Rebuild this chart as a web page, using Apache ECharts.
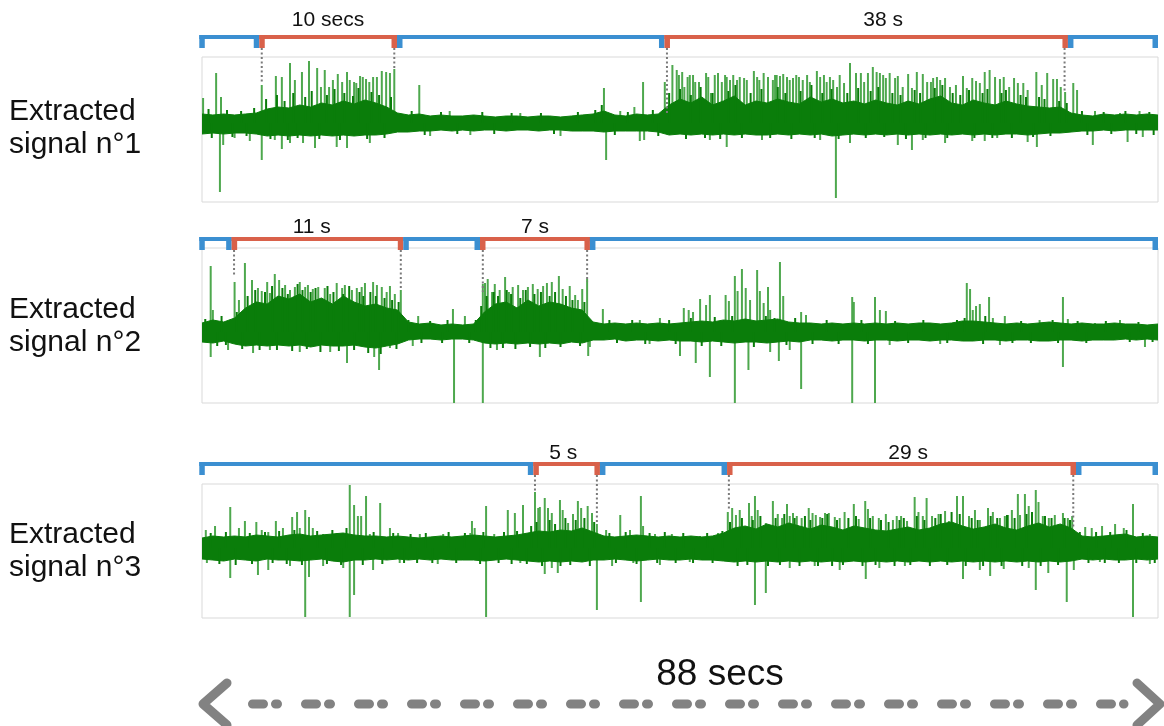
<!DOCTYPE html>
<html><head><meta charset="utf-8">
<script src="https://cdn.jsdelivr.net/npm/echarts@6/dist/echarts.min.js"></script>
<style>html,body{margin:0;padding:0;background:#fff}#c{width:1164px;height:726px}</style>
</head><body><div id="c"></div>
<script>
// ---------------- DATA ----------------
const TIME_MAX = 88;                       // seconds
const totalLabel = '88 secs';
const signalNames = ['Extracted\nsignal n°1', 'Extracted\nsignal n°2', 'Extracted\nsignal n°3'];

// dense-noise envelopes, one value per second (t = 0..88)
const band1Up = [9,8,9,8,9, 10,14,16,15,18,16,20,18,22,19,23,20,16,10,
  8,9,7,8,7,7,8,7,6,7,7,6,7,7,6,7,8,9,12,8,7,9,8,9,
  18,24,20,26,18,22,27,18,22,20,24,21,19,26,21,24,20,22,19,23,20,18,22,19,24,27,20,18,23,20,18,22,19,17,16,15,16,10,
  8,7,9,8,9,8,9,8];
const band1Dn = [-11,-10,-11,-10,-10, -11,-13,-12,-13,-12,-13,-12,-13,-12,-13,-12,-12,-11,-9,
  -9,-8,-8,-7,-8,-7,-8,-7,-7,-8,-7,-7,-8,-7,-7,-8,-8,-8,-9,-8,-8,-8,-8,-9,
  -12,-11,-12,-11,-12,-11,-12,-11,-12,-12,-11,-12,-11,-12,-11,-13,-12,-11,-12,-11,-12,-11,-12,-11,-12,-11,-12,-11,-12,-11,-12,-11,-11,-12,-11,-10,-10,-9,
  -8,-8,-7,-8,-7,-7,-7,-7];
const band2Up = [9,12,10,14, 24,30,28,36,33,38,30,34,28,36,30,26,28,24,22,
  10,8,9,7,8,7,8, 20,28,30,24,32,26,30,28,24,22,
  10,8,9,8,9,8,9,8,9,10, 11,10,12,11,13,11,12,13,10,9,
  9,8,9,8,9,8,9,8,9,8,9,9,8,9,11,11,10,9,8,9,8,9,10,9,8,9,8,8,9,8,8,7,8];
const band2Dn = [-10,-11,-9,-12, -14,-13,-14,-13,-14,-13,-15,-13,-14,-14,-13,-15,-16,-14,-12,
  -8,-7,-7,-8,-7,-7,-8, -11,-12,-11,-12,-11,-12,-11,-12,-10,-11,
  -8,-8,-7,-9,-8,-8,-9,-8,-9,-9, -10,-9,-10,-11,-10,-10,-11,-10,-9,-10,
  -8,-8,-9,-8,-8,-9,-8,-8,-9,-8,-8,-9,-8,-8,-9,-9,-8,-8,-9,-8,-8,-9,-9,-8,-8,-9,-8,-8,-8,-7,-8,-7,-8];
const band3Up = [10,12,11,12,11,13,12,11,13,14, 12,13,14,15,13,12,12,11,12,11,
  10,11,12,11,12,13,12,11,12,13, 15,17,16,18,17,20,16,12,11,12,
  13,12,11,12,11,12,11,12,15,20, 22,19,24,21,25,22,19,23,21,18,
  22,20,18,17,19,21,18,20,24,26, 22,19,21,24,20,18,22,25,21,24,
  20,12,11,12,13,14,11,12,11];
const band3Dn = [-11,-12,-13,-11,-12,-13,-11,-12,-12,-13, -12,-11,-13,-14,-12,-12,-11,-12,-11,-12,
  -11,-12,-11,-12,-12,-12,-13,-12,-11,-12, -13,-14,-13,-14,-13,-14,-12,-12,-11,-12,
  -13,-12,-11,-12,-12,-11,-12,-12,-13,-14, -13,-14,-13,-14,-13,-14,-13,-14,-13,-14,
  -13,-14,-13,-14,-13,-14,-13,-14,-13,-14, -13,-14,-13,-14,-13,-14,-13,-14,-13,-14,
  -13,-11,-12,-11,-12,-12,-11,-12,-11];

// short dark bursts inside the noise band [time s, amplitude]
const bursts1 = [[0.6,14],[0.9,-15],[2.3,13],[2.8,-14],[3.6,12],[4.1,-13],[4.8,15],
[5.9,24],[6.3,-16],[6.9,28],[7.6,22],[7.9,-17],[8.4,30],[8.8,-15],[9.5,26],[10.1,32],[10.8,-16],[11.5,28],[12.2,34],[12.7,-17],[13.1,30],[13.9,27],[14.4,35],[15.2,-16],[15.6,31],[16.3,28],[16.8,-15],[17.4,26],
[19.3,12],[20.5,-12],[22.0,11],[23.5,-11],[25.8,11],[26.9,-11],[28.5,10],[31.2,10],[32.4,-11],[34.6,11],[36.2,13],[36.8,18],[38.0,-12],[39.2,11],[41.5,13],[42.0,-13],
[43.0,30],[44.0,34],[44.55,-16],[45.0,28],[45.9,36],[46.3,-15],[47.0,30],[47.7,-16],[48.45,32],[49.1,38],[49.7,-15],[50.5,30],[51.5,34],[52.3,-15],[53.0,36],[53.7,30],[54.25,-16],[55.1,32],[56.1,38],[56.4,-15],[57.1,30],[57.95,34],[58.6,-16],[59.4,30],[60.4,35],[61.1,-15],[61.55,32],[62.25,36],[62.8,-14],[63.55,30],[64.3,28],[64.8,-16],[65.6,33],[66.1,30],[66.6,-15],[67.45,35],[68.15,38],[68.6,-15],[69.1,30],[69.8,28],[70.6,33],[71.1,-15],[71.85,30],[72.3,34],[72.75,-15],[73.6,30],[74.0,33],[74.55,-15],[75.35,28],[75.85,26],[76.5,-14],[77.05,26],[77.55,24],[78.1,-13],[78.9,22],[79.6,20],
[81.0,12],[81.5,-12],[83.0,11],[83.7,-11],[85.0,12],[86.0,-11],[87.2,11],[87.6,-12]];
const bursts2 = [[0.3,13],[1.4,-14],[1.8,16],[2.2,-13],[3.2,20],[3.7,-17],[4.2,36],[4.9,42],[5.3,-18],[5.8,40],[6.45,46],[6.9,-18],[7.4,44],[7.9,38],[8.3,-19],[8.8,48],[9.25,42],[9.65,-17],[10.0,40],[10.45,44],[10.9,-20],[11.55,46],[12.1,40],[12.6,-19],[13.0,38],[13.55,46],[14.0,-18],[14.5,40],[14.85,36],[15.3,-21],[15.5,40],[16.0,36],[16.45,-22],[16.8,34],[17.5,32],[17.9,-17],[18.1,30],
[19.0,12],[20.2,-11],[21.0,11],[22.1,-11],[22.6,12],[24.6,-11],[25.2,12],
[25.7,26],[26.2,36],[26.55,-16],[26.85,40],[27.25,36],[27.7,-16],[28.05,42],[28.45,38],[28.85,-17],[29.3,34],[29.8,42],[30.2,-15],[30.6,38],[31.2,40],[31.6,-16],[32.0,36],[32.5,40],[33.0,-15],[33.5,36],[34.1,32],[34.8,-14],[35.2,30],
[37.5,12],[38.2,-11],[39.6,12],[40.8,-12],[43.0,12],[43.6,-12],[45.0,14],[46.0,-14],[47.2,15],[47.8,-14],[48.8,16],[50.8,-15],[51.9,16],[52.7,14],[53.8,-13],[54.6,14],[56.2,-12],[57.5,12],[58.6,-12],[60.7,12],[61.3,-12],[63.8,11],[65.0,-11],[66.4,12],[68.6,-11],[69.5,12],[70.2,14],[71.9,-12],[72.1,16],[74.6,-11],[75.4,11],[76.3,-11],[78.3,12],[78.8,-11],[80.6,11],[81.4,-11],[83.2,11],[85.4,-10],[86.2,10],[87.5,-10]];
const bursts3 = [[0.8,15],[1.6,-16],[2.2,16],[3.1,-17],[4.4,15],[4.6,-16],[5.8,16],[6.5,-15],[7.1,17],[7.8,-16],[8.5,18],[9.2,-17],[10.6,17],[11.5,-16],[12.0,18],[12.8,-17],[13.3,20],[14.8,-17],[15.8,16],[16.6,-16],[17.6,15],[18.6,-15],[19.2,14],[19.8,-15],[20.6,15],[21.2,-15],[22.7,16],[23.4,-15],[24.2,15],[25.6,-16],[25.9,16],[27.3,-15],[27.8,16],[28.5,-16],[29.0,17],[29.9,-16],
[30.3,22],[30.8,26],[31.3,-18],[32.0,28],[32.5,24],[33.0,-18],[33.45,30],[33.9,-17],[34.4,28],[35.2,30],[35.7,-18],[36.1,26],
[37.5,15],[38.1,-15],[39.0,16],[40.0,-16],[41.2,15],[41.9,-15],[42.6,16],[43.6,-15],[44.3,15],[45.2,-15],[46.5,15],[47.0,-15],[47.9,17],
[48.6,26],[49.3,-18],[49.7,30],[50.2,-17],[50.7,28],[51.4,32],[52.1,-18],[52.8,30],[53.2,-17],[53.6,34],[54.55,30],[55.0,-18],[55.5,32],[56.0,28],[56.7,-18],[57.1,30],[57.55,34],[58.0,-18],[58.45,28],[59.0,-17],[59.5,30],[60.2,32],[60.8,-18],[61.5,30],[62.0,-17],[62.5,28],[63.2,26],[63.75,-18],[64.2,28],[64.6,30],[65.2,-17],[65.8,32],[66.5,28],[67.0,-18],[67.5,30],[68.0,34],[68.6,-17],[69.0,36],[69.75,34],[70.3,-18],[70.85,30],[71.4,28],[71.9,-18],[72.6,32],[73.2,30],[73.6,-18],[74.1,33],[74.8,30],[75.5,-18],[75.9,34],[76.4,36],[77.2,-18],[77.6,32],[78.2,30],[78.8,-17],[79.4,30],[79.9,28],
[80.8,16],[81.6,-15],[82.3,16],[83.1,-15],[83.6,16],[84.4,-15],[85.1,18],[86.0,-15],[86.6,15],[87.7,-15]];

// individual spikes [time s, amplitude]
const spikes1 = [[0.1,25],[1.3,50],[1.65,-69],[1.75,26],[1.95,-22],[3.0,-15],[4.4,-18],[5.5,38],[5.5,-37],[6.7,-17],[6.8,47],[7.35,46],[7.35,-26],[8.1,60],[8.1,-20],[8.55,43],[9.2,51],[9.3,-20],[9.85,62],[10.4,-25],[10.6,55],[10.95,36],[11.3,53],[11.7,36],[12.05,43],[12.4,-24],[12.5,49],[12.9,41],[13.35,51],[13.35,-25],[13.6,43],[14.0,41],[14.2,40],[14.55,47],[14.8,46],[15.1,44],[15.4,41],[15.45,-20],[15.75,46],[16.1,46],[16.55,52],[16.95,51],[17.3,50],[17.7,54],
[20.0,38],[21.0,-13],[22.8,12],[24.7,-12],[29.3,10],[33.0,-13],[37.0,35],[37.2,-37],[38.5,12],[39.8,16],[40.3,-18],[40.6,41],[40.7,-17],
[42.6,41],[43.3,58],[43.7,53],[43.9,48],[44.2,51],[44.4,36],[44.7,46],[44.9,48],[45.2,48],[45.4,41],[45.75,41],[46.4,50],[46.6,46],[46.75,-17],[46.85,30],[47.2,48],[47.5,50],[47.85,41],[48.15,48],[48.3,46],[48.3,-24],[48.6,43],[48.9,48],[49.25,43],[49.5,46],[49.9,45],[50.15,43],[50.8,52],[51.1,46],[51.3,43],[51.55,-17],[51.7,50],[52.1,46],[52.55,43],[52.75,48],[52.9,48],[53.2,47],[53.5,49],[53.85,46],[54.1,43],[54.4,45],[54.7,48],[54.95,46],[55.3,43],[55.7,48],[55.95,41],[56.6,52],[56.9,46],[56.9,-17],[57.25,48],[57.5,41],[57.8,46],[58.1,43],[58.35,-75],[58.45,36],[58.7,48],[59.1,40],[59.65,60],[59.65,-20],[60.2,50],[60.65,50],[60.95,41],[61.3,50],[61.75,56],[62.1,51],[62.4,50],[62.7,48],[62.95,45],[63.3,50],[63.8,45],
[64.05,47],[64.05,-22],[64.5,36],[65.0,49],[65.35,35],[65.35,-27],[65.8,51],[66.35,49],[66.35,-17],[66.75,41],[67.1,41],[67.3,45],[67.65,46],[67.95,43],[68.4,45],[68.4,-20],[68.85,36],[69.4,38],[70.05,47],[70.4,35],[70.9,45],[70.9,-18],[71.25,42],[71.6,40],[72.05,51],[72.05,-18],[72.5,53],[73.0,46],[73.2,-15],[73.45,44],[73.8,46],[74.3,36],[74.75,45],[75.1,40],[75.6,40],[76.0,33],[76.0,-19],[76.8,51],[76.85,-24],[77.3,38],[77.8,50],[78.35,44],[78.7,44],[79.05,36],[79.45,31],[80.2,40],[80.55,33],[82.0,-22],[82.2,12],[84.5,10],[85.2,-19],[86.3,12],[86.6,-14]];
const spikes2 = [[0.8,66],[0.8,-25],[1.0,22],[2.4,-18],[3.0,50],[3.4,32],[3.95,69],[4.6,52],[4.7,-21],[5.15,44],[5.5,41],[6.0,50],[6.25,39],[6.25,-18],[6.7,58],[7.1,52],[7.65,47],[8.1,42],[8.55,45],[9.0,50],[9.0,-20],[9.5,45],[9.75,47],[10.2,43],[10.7,45],[11.3,44],[11.8,38],[11.8,-20],[12.4,49],[12.9,44],[13.15,47],[13.35,-31],[13.8,42],[14.25,44],[14.7,45],[15.0,49],[15.75,50],[15.85,-25],[16.1,47],[16.3,-38],[16.55,45],[17.0,40],[17.3,46],[17.3,-16],[17.75,38],[18.3,42],
[19.4,-14],[19.9,16],[23.1,23],[23.2,-71],[24.2,16],
[25.85,48],[25.85,-71],[26.05,49],[26.3,53],[26.7,40],[26.95,48],[27.15,-18],[27.4,42],[27.9,55],[28.25,40],[28.6,45],[29.1,47],[29.55,42],[30.0,45],[30.45,48],[30.9,43],[31.1,-25],[31.4,46],[31.75,49],[32.2,50],[32.85,56],[33.2,43],[33.85,46],[34.35,37],[34.6,32],[35.0,43],[35.45,53],[35.55,-24],[35.7,-15],
[36.9,23],[40.3,12],[41.2,-12],[42.15,14],[44.0,-24],[44.35,24],[44.8,22],[45.2,20],[45.45,-31],[45.85,33],[46.4,27],[46.75,37],[46.75,-45],[48.2,37],[48.5,31],[49.05,56],[49.05,-71],[49.3,41],[49.7,63],[50.05,44],[50.3,-38],[50.45,32],[51.1,62],[51.35,41],[51.7,29],[52.1,45],[52.3,22],[52.3,-20],[53.1,-29],[53.2,70],[53.5,36],[54.1,-18],[55.15,20],[55.15,-57],[55.6,17],[59.85,35],[59.85,-71],[60.0,30],[61.95,35],[61.95,-71],[62.4,22],[62.95,21],[63.3,-13],[67.95,-12],[70.4,49],[70.7,43],[70.95,22],[71.25,26],[71.6,28],[72.45,35],[72.8,14],[73.45,-13],[73.9,16],[77.1,12],[79.25,35],[79.25,-35],[79.7,13],[82.2,9],[84.5,12],[86.8,-15]];
const spikes3 = [[0.35,18],[0.45,-15],[1.2,22],[2.6,41],[2.6,-30],[3.4,20],[3.95,27],[5.0,26],[5.15,-27],[5.5,18],[6.1,16],[6.1,-22],[6.8,27],[7.45,20],[8.1,-18],[8.3,31],[8.75,36],[9.0,20],[9.5,38],[9.5,-69],[9.85,31],[9.85,-29],[10.2,20],[11.15,14],[11.15,-18],[12.4,15],[13.0,-20],[13.6,63],[13.6,-69],[14.0,43],[14.0,-47],[14.35,32],[14.65,32],[15.1,52],[15.45,14],[15.75,-22],[16.4,45],[17.3,20],[18.05,15],[18.2,-15],[20.05,14],[21.7,-16],[22.2,14],[24.7,15],[24.85,27],[25.1,20],[26.15,42],[26.15,-69],[26.9,14],[28.15,38],[28.8,35],[29.3,-15],[29.55,43],[30.65,56],[30.95,40],[31.1,41],[31.55,50],[31.55,-26],[31.85,40],[32.2,35],[32.2,-20],[32.75,-25],[32.95,48],[33.2,38],[33.7,25],[34.15,34],[34.6,47],[34.9,40],[35.5,42],[35.9,35],[36.35,24],[36.35,-62],[37.2,18],[37.75,-18],[38.5,33],[39.4,18],[39.7,-15],[40.4,52],[40.4,-54],[40.6,22],[41.7,14],[42.15,-17],[43.25,14],[44.9,-14],[45.85,12],[47.5,15],
[48.4,36],[48.8,40],[49.15,33],[49.5,38],[49.9,20],[50.35,45],[50.6,32],[50.9,52],[50.9,-57],[51.15,38],[51.9,25],[51.9,-45],[52.55,47],[53.0,34],[53.4,30],[53.85,44],[54.1,32],[54.1,-20],[54.4,35],[54.75,32],[55.2,30],[55.85,40],[56.2,35],[56.4,-18],[56.5,33],[56.9,31],[57.35,35],[57.7,35],[58.25,31],[58.7,30],[58.7,-22],[59.15,36],[60.0,44],[60.45,29],[61.05,47],[61.1,-31],[61.3,39],[61.75,32],[62.3,30],[62.35,-20],[62.95,34],[63.6,28],[63.95,32],[64.35,32],[64.7,-18],[64.9,27],[65.6,51],[65.95,36],[66.35,32],[66.7,50],[67.2,32],[67.8,34],[68.4,37],[68.75,27],[69.5,52],[70.05,52],[70.05,-31],[70.6,32],[71.15,38],[71.6,28],[71.6,-22],[72.35,40],[72.55,-28],[72.8,36],[73.45,30],[73.8,-21],[73.9,32],[74.2,33],[74.55,38],[75.1,54],[75.3,33],[75.75,54],[76.1,42],[76.1,-20],[76.75,58],[76.75,-42],[77.0,46],[77.4,32],[77.9,-25],[77.95,30],[78.5,33],[79.25,35],[79.6,-54],[79.7,30],[80.1,32],[80.25,-22],
[81.3,21],[81.9,20],[82.65,-14],[82.85,22],[84.05,24],[84.85,20],[85.7,44],[85.7,-69],[87.25,14],[87.25,-16]];

// activity brackets [start s, end s, active(1)/rest(0)]
const segs1 = [[-0.25,5.27,0],[5.27,17.95,1],[17.95,42.57,0],[42.57,79.71,1],[79.71,88,0]];
const segs2 = [[-0.25,2.73,0],[2.73,18.53,1],[18.53,25.59,0],[25.59,35.71,1],[35.71,88,0]];
const segs3 = [[-0.25,30.5,0],[30.5,36.63,1],[36.63,48.33,0],[48.33,80.45,1],[80.45,88,0]];
const segLabels1 = [[11.6,'10 secs'],[62.7,'38 s']];
const segLabels2 = [[10.1,'11 s'],[30.65,'7 s']];
const segLabels3 = [[33.26,'5 s'],[65.0,'29 s']];
// dotted guides [time s, amplitude where they stop]
const dots1 = [[5.5,41],[17.7,55],[42.8,9],[79.4,31]];
const dots2 = [[2.95,55],[18.3,44],[25.85,40],[35.45,50]];
const dots3 = [[30.65,55],[36.35,25],[48.5,37],[80.2,21]];

// ---------------- STYLE / LAYOUT ----------------
const BAND = '#0a7d0a', SPIKE = '#4ea84e', BLUE = '#3b8fd1', RED = '#d9614a', GRAY = '#828282';
const FONT = '"Liberation Sans", Arial, Helvetica, sans-serif';
const panels = [
  {top:57, height:145, yMin:-79, yMax:66, up:band1Up, dn:band1Dn, bursts:bursts1, spikes:spikes1, segs:segs1, labels:segLabels1, dots:dots1, gap:20, labOff:16.5, nameY:128.5},
  {top:248, height:155, yMin:-71, yMax:84, up:band2Up, dn:band2Dn, bursts:bursts2, spikes:spikes2, segs:segs2, labels:segLabels2, dots:dots2, gap:9, labOff:12, nameY:326.5},
  {top:484, height:134, yMin:-70, yMax:64, up:band3Up, dn:band3Dn, bursts:bursts3, spikes:spikes3, segs:segs3, labels:segLabels3, dots:dots3, gap:20, labOff:10.5, nameY:551}
];

function stemSeries(i, data, color, width, z) {
  return {type:'custom', xAxisIndex:i, yAxisIndex:i, data, z, silent:true, clip:true,
    renderItem(params, api){
      const a = api.coord([api.value(0), 0]), b = api.coord([api.value(0), api.value(1)]);
      return {type:'line', shape:{x1:a[0], y1:a[1], x2:b[0], y2:b[1]}, style:{stroke:color, lineWidth:width}};
    }};
}

const grids = [], xAxes = [], yAxes = [], series = [];
panels.forEach((p, i) => {
  grids.push({left:202, right:6, top:p.top, height:p.height, show:true, borderColor:'#d9d9d9', borderWidth:1, backgroundColor:'transparent'});
  xAxes.push({type:'value', gridIndex:i, min:0, max:TIME_MAX, show:false});
  yAxes.push({type:'value', gridIndex:i, min:p.yMin, max:p.yMax, show:false});
  series.push(stemSeries(i, p.spikes, SPIKE, 2, 2));
  [p.up, p.dn].forEach(arr => {
    series.push({type:'line', xAxisIndex:i, yAxisIndex:i, data:arr.map((v, t) => [t, v]), symbol:'none', z:3, silent:true,
      lineStyle:{color:BAND, width:1}, areaStyle:{color:BAND, opacity:1}});
  });
  series.push(stemSeries(i, p.bursts, BAND, 2, 3));
  // brackets
  series.push({type:'custom', xAxisIndex:i, yAxisIndex:i, data:p.segs, z:5, silent:true, clip:false,
    renderItem(params, api){
      const a = api.coord([api.value(0), p.yMax]), b = api.coord([api.value(1), p.yMax]);
      const yl = a[1] - p.gap, col = api.value(2) ? RED : BLUE, w = 5.5;
      return {type:'group', children:[
        {type:'rect', shape:{x:a[0], y:yl-2, width:b[0]-a[0], height:4}, style:{fill:col}},
        {type:'rect', shape:{x:a[0], y:yl-2, width:w, height:13}, style:{fill:col}},
        {type:'rect', shape:{x:b[0]-w, y:yl-2, width:w, height:13}, style:{fill:col}}
      ]};
    }});
  // bracket labels
  series.push({type:'custom', xAxisIndex:i, yAxisIndex:i, data:p.labels.map(l => [l[0]]), z:5, silent:true, clip:false,
    renderItem(params, api){
      const a = api.coord([api.value(0), p.yMax]);
      return {type:'text', style:{text:p.labels[params.dataIndex][1], x:a[0], y:a[1]-p.gap-p.labOff,
        font:'21px ' + FONT, fill:'#111', textAlign:'center', textVerticalAlign:'middle'}};
    }});
  // dotted guides
  series.push({type:'custom', xAxisIndex:i, yAxisIndex:i, data:p.dots, z:4, silent:true, clip:false,
    renderItem(params, api){
      const a = api.coord([api.value(0), p.yMax]), b = api.coord([api.value(0), api.value(1)]);
      return {type:'line', shape:{x1:a[0], y1:a[1]-p.gap+11, x2:b[0], y2:b[1]},
        style:{stroke:'#7a7a7a', lineWidth:2, lineDash:[2,2.5]}};
    }});
});

const chart = echarts.init(document.getElementById('c'));
chart.setOption({animation:false, backgroundColor:'#fff', grid:grids, xAxis:xAxes, yAxis:yAxes, series});

// annotations tied to the time axis
const x0 = chart.convertToPixel({xAxisIndex:2}, 0);
const x1 = chart.convertToPixel({xAxisIndex:2}, TIME_MAX);
const ay = 704;
const graphic = panels.map((p, i) => ({type:'text', style:{text:signalNames[i], x:9, y:p.nameY, font:'30px ' + FONT,
  lineHeight:33, fill:'#111', textAlign:'left', textVerticalAlign:'middle'}}));
graphic.push({type:'text', style:{text:totalLabel, x:720, y:675, font:'37px ' + FONT, fill:'#111', textAlign:'center', textVerticalAlign:'middle'}});
graphic.push({type:'line', shape:{x1:x0+50.5, y1:ay, x2:x1-34, y2:ay},
  style:{stroke:GRAY, lineWidth:9, lineCap:'round', lineDash:[11,12,2,28]}});
graphic.push({type:'polyline', shape:{points:[[x0+25,ay-21],[x0+1,ay],[x0+25,ay+21]]},
  style:{stroke:GRAY, lineWidth:9, lineCap:'round', lineJoin:'round', fill:null}});
graphic.push({type:'polyline', shape:{points:[[x1-21,ay-21],[x1+2,ay],[x1-21,ay+21]]},
  style:{stroke:GRAY, lineWidth:9, lineCap:'round', lineJoin:'round', fill:null}});
chart.setOption({graphic});
</script></body></html>
